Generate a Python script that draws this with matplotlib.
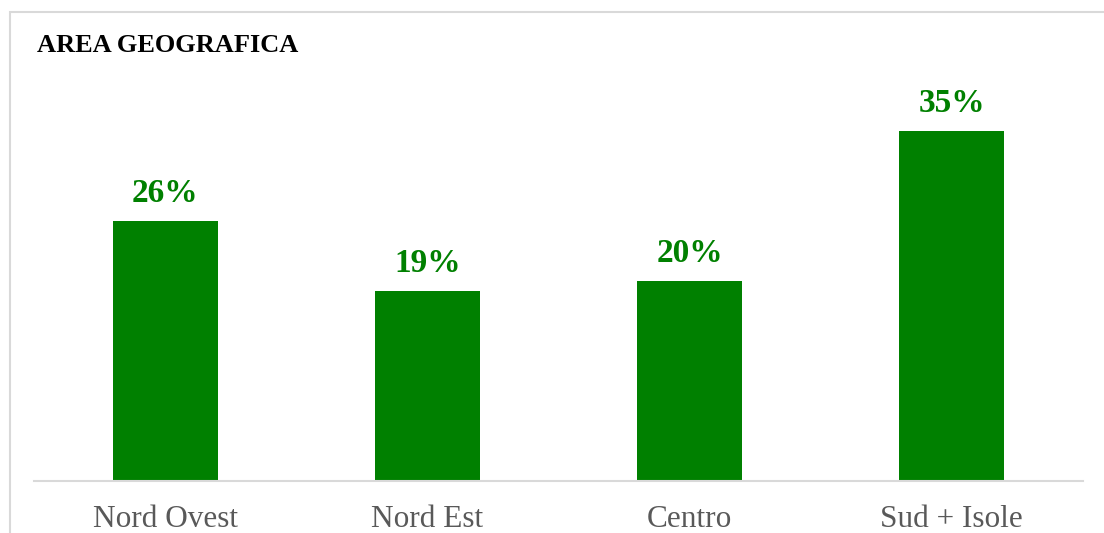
import matplotlib.pyplot as plt
from matplotlib.patches import Rectangle

# area geografica, quota percentuale
categorie = ["Nord Ovest", "Nord Est", "Centro", "Sud + Isole"]
quote = [26, 19, 20, 35]

verde = "#008000"
grigio_testo = "#595959"
grigio_linea = "#d9d9d9"

plt.rcParams["font.family"] = ["Liberation Serif", "DejaVu Serif"]

W, H = 1104, 533
fig = plt.figure(figsize=(W / 100, H / 100), dpi=100)

# cornice del grafico (lato destro e basso fuori dall'immagine)
fig.patches.append(Rectangle((10 / W, -0.05), 1.2, (H - 12) / H + 0.05,
                             transform=fig.transFigure, fill=False,
                             edgecolor=grigio_linea, linewidth=1.5))

ax = fig.add_axes([34 / W, 52 / H, (1083 - 34) / W, 400 / H])
x = range(len(categorie))
barre = ax.bar(x, quote, width=0.4, color=verde)

for xi, v in zip(x, quote):
    ax.annotate(f"{v}%", (xi, v), xytext=(0, 9), textcoords="offset points",
                ha="center", va="bottom", fontsize=24, fontweight="bold",
                color=verde)

ax.set_xlim(-0.5, len(categorie) - 0.5)
ax.set_ylim(0, 40)
ax.set_yticks([])
ax.set_xticks(list(x))
ax.set_xticklabels(categorie, fontsize=22.5, color=grigio_testo)
ax.tick_params(axis="x", length=0, pad=17)
for lato in ["top", "right", "left"]:
    ax.spines[lato].set_visible(False)
ax.spines["bottom"].set_color(grigio_linea)
ax.spines["bottom"].set_linewidth(1.5)

fig.text(37 / W, 1 - 52 / H, "AREA GEOGRAFICA", fontsize=19,
         fontweight="bold", color="black", ha="left", va="baseline")

fig.savefig("out.png", dpi=100)
